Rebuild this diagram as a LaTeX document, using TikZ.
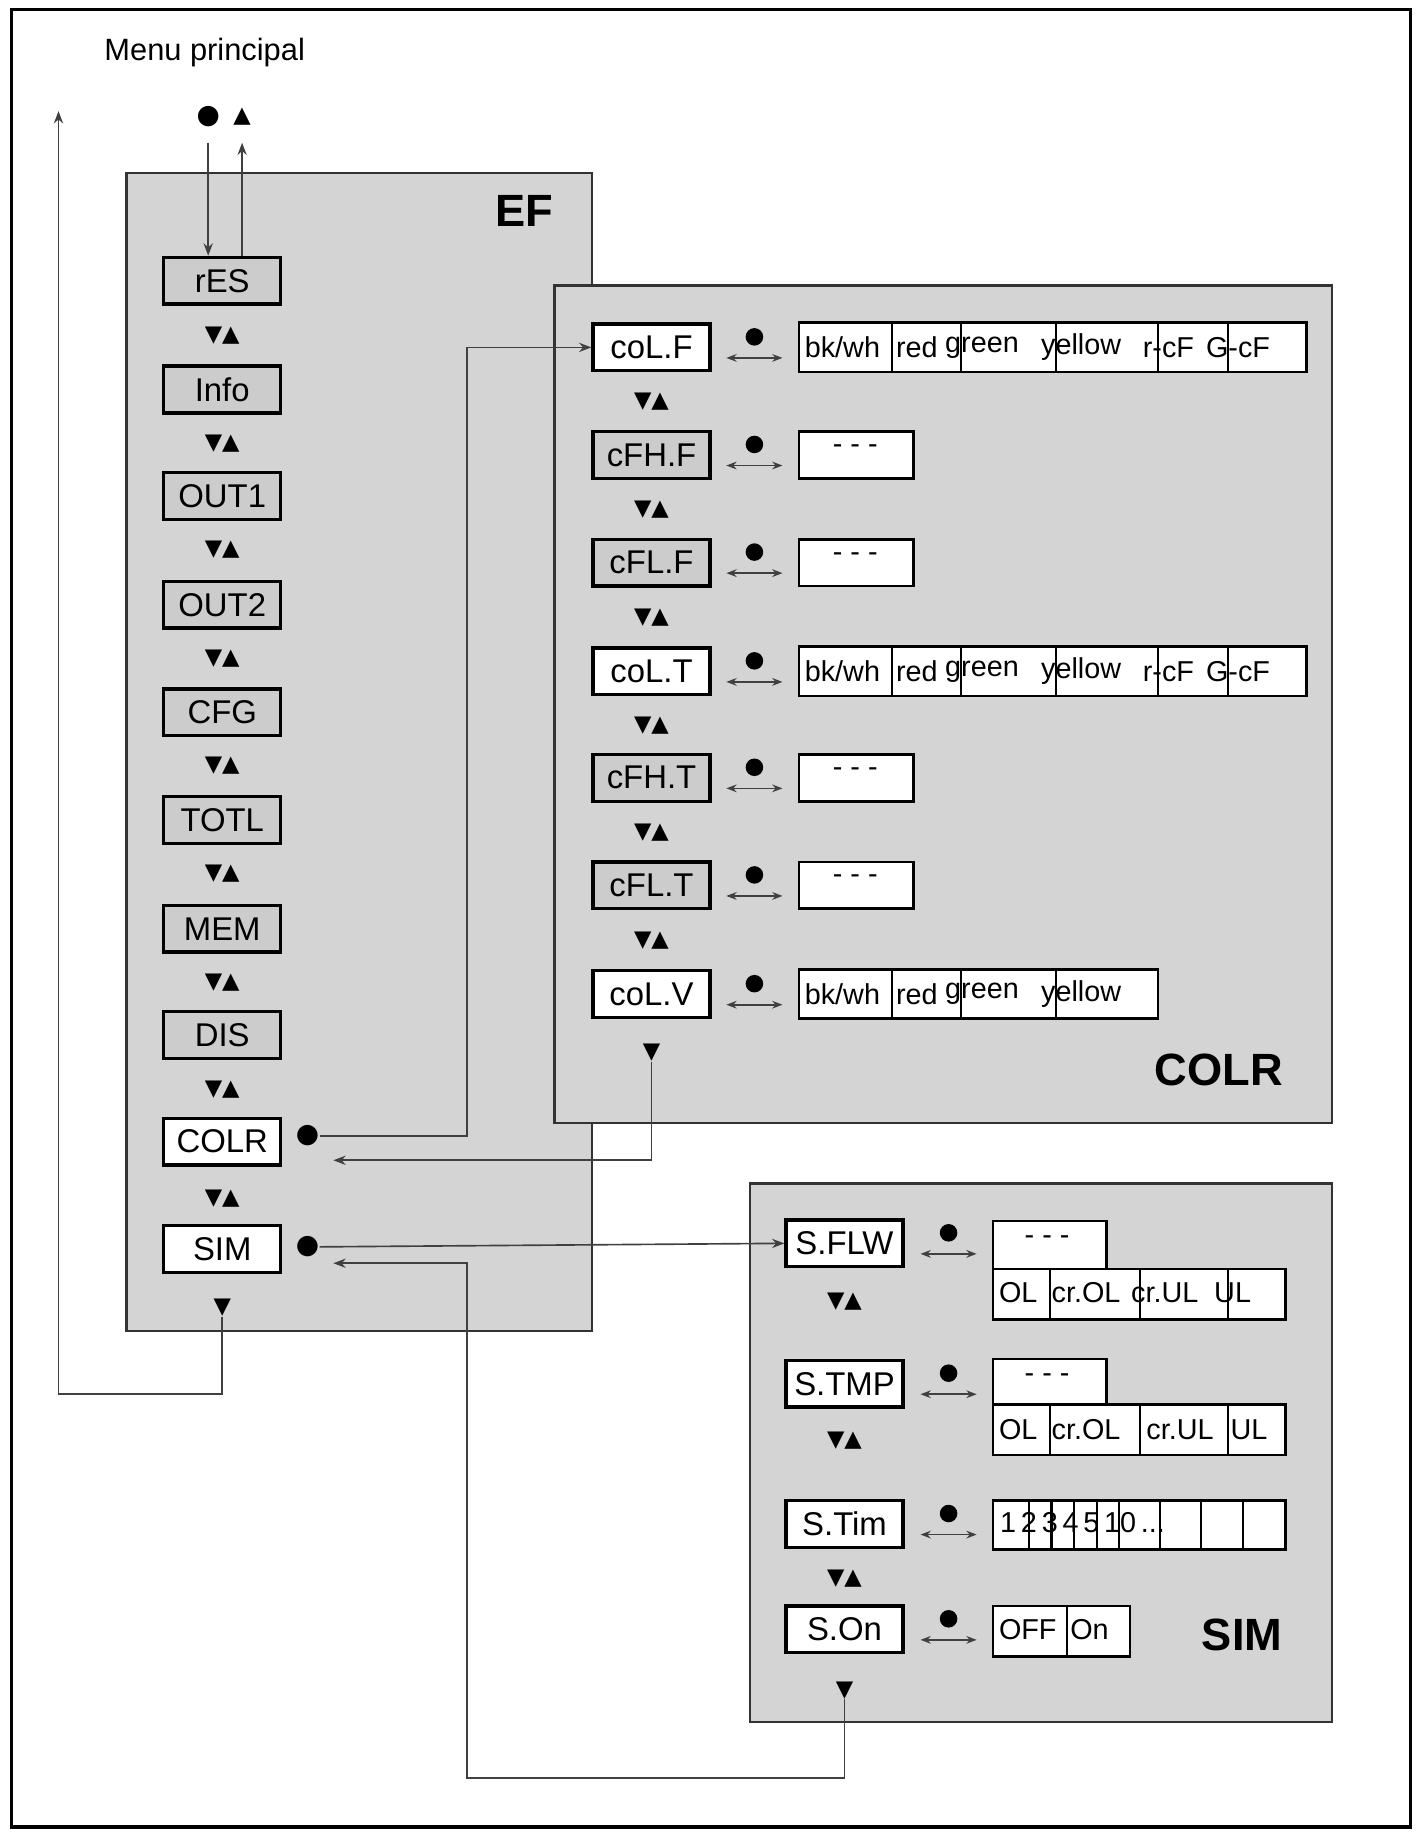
\documentclass[tikz,border=0pt]{standalone}
\usepackage{fontspec}
\setmainfont{Liberation Sans}
\newfontfamily\symf{DejaVu Sans}
\usetikzlibrary{positioning,arrows.meta}
\tikzset{
  panel/.style={draw=black!80, fill=black!17, line width=1.2pt},
  item/.style={draw, line width=1.6pt, minimum width=2cm, minimum height=0.8cm,
    inner sep=0pt, font=\fontsize{16}{18}\selectfont},
  gitem/.style={item, fill=black!20},
  witem/.style={item, fill=white},
  vbox/.style={draw, line width=1.3pt, fill=white},
  vtxt/.style={anchor=west, inner sep=1pt, font=\fontsize{14}{16}\selectfont},
  ud/.style={inner sep=0pt, font=\symf\fontsize{11}{12}\selectfont},
  conn/.style={draw=black!75, line width=0.8pt},
  title/.style={font=\bfseries\fontsize{22}{24}\selectfont}
}
% dot over a double arrow, #1 = x, #2 = row centre
\newcommand\selsym[2]{%
  \fill (#1,#2-9) circle (0.15cm);
  \draw[conn, {Stealth[length=5pt]}-{Stealth[length=5pt]}] (#1-24,#2+9) -- (#1+24,#2+9);}
% colour choice row, #1 = row centre, #2 = right end, #3 = dividers
\newcommand\colorlist[3]{%
  \draw[vbox] (683,#1-21) rectangle (#2,#1+21);
  \foreach \d in {#3} \draw[line width=1pt] (\d,#1-21) -- (\d,#1+21);}
\newcommand\valdash[1]{%
  \draw[vbox] (683,#1-20) rectangle (781,#1+20);
  \node[vtxt] at (710,#1-5) {- - -};}
\begin{document}
\begin{tikzpicture}[x=0.02cm, y=-0.02cm, >={Stealth[length=6pt]}]
\useasboundingbox (0,0) rectangle (1210,1568);
\draw[line width=1.5pt] (10,8) rectangle (1206,1562);

% Panels
\draw[panel] (108,148) rectangle (506,1138);
\draw[panel] (474,244) rectangle (1139,960);
\draw[panel] (641,1012) rectangle (1139,1472);
\node[title] at (448,180) {EF};
\node[title] at (1042,915) {COLR};
\node[title] at (1062,1398) {SIM};

% Main menu
\node[font=\fontsize{15}{17}\selectfont] (menu) at (175,45) {Menu principal};
\node[ud, font=\symf\fontsize{13}{14}\selectfont] (mdot) at (178,100) {●};
\node[ud] (mup) at (207,100) {▲};
\coordinate (ret) at (50,95);

% EF blocks
\foreach \n/\t/\y in {res/rES/240, info/Info/333, out1/OUT1/424, out2/OUT2/517,
    cfg/CFG/609, totl/TOTL/701, mem/MEM/794, dis/DIS/885}
  \node[gitem] (\n) at (190,\y) {\t};
\node[witem] (colr) at (190,976) {COLR};
\node[witem] (sim) at (190,1068) {SIM};
\foreach \y in {287,379,470,563,655,747,840,932,1025}
  \node[ud] at (190,\y) {▼▲};
\node[ud] (efend) at (190,1118) {▼};
\node[ud, font=\symf\fontsize{13}{14}\selectfont] (colrdot) at (263,971) {●};
\node[ud, font=\symf\fontsize{13}{14}\selectfont] (simdot) at (263,1066) {●};

% COLR blocks
\foreach \n/\t/\y/\s in {colf/coL.F/297/witem, cfhf/cFH.F/389/gitem, cflf/cFL.F/481/gitem,
    colt/coL.T/574/witem, cfht/cFH.T/665/gitem, cflt/cFL.T/757/gitem, colv/coL.V/850/witem}
  {\node[\s] (\n) at (557,\y) {\t};
   \selsym{645}{\y}}
\foreach \y in {343,436,528,620,712,804}
  \node[ud] at (557,\y) {▼▲};
\node[ud] (colrend) at (557,900) {▼};
\foreach \y in {297,574} {
  \colorlist{\y}{1117}{763,822,903,990,1050}
  \foreach \x/\t in {686/bk\slash wh, 764/red, 806/green, 888/yellow, 975/r-cF, 1029/G-cF}
    \node[vtxt] at (\x,\y) {\t};}
\colorlist{850}{990}{763,822,903}
\foreach \x/\t in {686/bk\slash wh, 764/red, 806/green, 888/yellow}
  \node[vtxt] at (\x,850) {\t};
\foreach \y in {389,481,665,757} {\valdash{\y}}

% SIM blocks
\foreach \n/\t/\y in {sflw/S.FLW/1063, stmp/S.TMP/1183, stim/S.Tim/1303, son/S.On/1393}
  {\node[witem] (\n) at (722,\y) {\t};
   \selsym{811}{\y}}
\foreach \y in {1113,1232,1350}
  \node[ud] at (722,\y) {▼▲};
\node[ud] (simend) at (722,1445) {▼};
\foreach \y/\a/\b in {1063/1044/1085, 1183/1162/1201} {
  \draw[vbox] (849,\a) rectangle (946,\b);
  \node[vtxt] at (874,\a+16) {- - -};
  \draw[vbox] (849,\b) rectangle (1099,\b+43);
  \foreach \d in {898,975,1050} {\draw[line width=1pt] (\d,\b) -- (\d,\b+43);}}
\foreach \x/\t in {852/OL, 897/cr.OL, 965/cr.UL, 1036/UL}
  \node[vtxt] at (\x,1105) {\t};
\foreach \x/\t in {852/OL, 897/cr.OL, 978/cr.UL, 1050/UL}
  \node[vtxt] at (\x,1222) {\t};
\draw[vbox] (849,1283) rectangle (1099,1325);
\foreach \d in {880,899,918,938,957,992,1027,1063} \draw[line width=1pt] (\d,1283) -- (\d,1325);
\node[vtxt] at (853,1302) {1\,2\,3\,4\,5\,10\,...};
\draw[vbox] (849,1373) rectangle (966,1416);
\draw[line width=1pt] (912,1373) -- (912,1416);
\node[vtxt] at (852,1393) {OFF};
\node[vtxt] at (913,1393) {On};

% Connections
\draw[conn, ->] (178,122) -- (res.north -| 178,0);
\draw[conn, ->] (res.north -| 207,0) -- (207,122);
\draw[conn, ->] (efend.south) |- (50,1192) -- (ret);
\draw[conn, ->] (colrdot.east) -- (399,971) |- (colf.west);
\draw[conn, ->] (colrend.south) |- (285,992);
\draw[conn, ->] (simdot.east) -- (sflw.west);
\draw[conn, ->] (simend.south) |- (399,1520) -- (399,1080) -- (285,1080);
\end{tikzpicture}
\end{document}
